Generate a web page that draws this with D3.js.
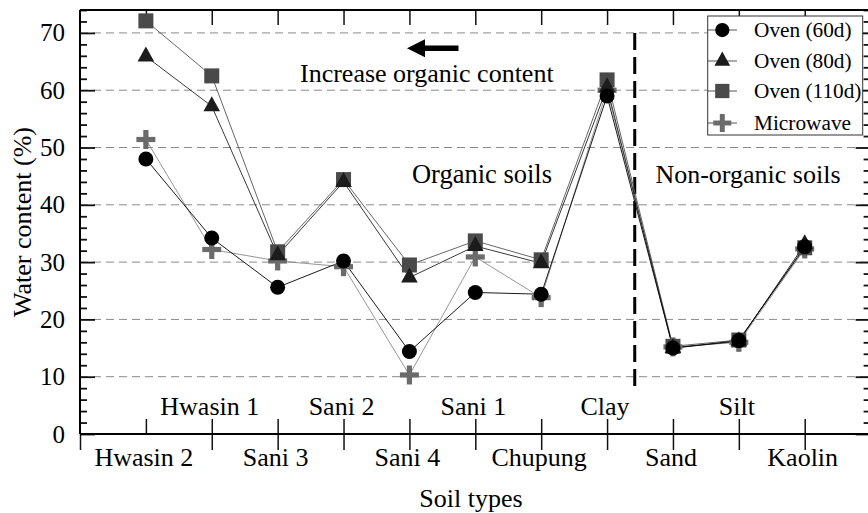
<!DOCTYPE html>
<html>
<head>
<meta charset="utf-8">
<script src="https://cdn.jsdelivr.net/npm/d3@7"></script>
<style>
  body { margin: 0; background: #fff; }
  text { font-family: "Liberation Serif", "Times New Roman", serif; fill: #000; }
</style>
</head>
<body>
<svg id="chart" width="868" height="513"></svg>
<script>
// Soil types along the x axis
const soils = ["Hwasin 2", "Hwasin 1", "Sani 3", "Sani 2", "Sani 4", "Sani 1",
               "Chupung", "Clay", "Sand", "Silt", "Kaolin"];

// Water content (%) for each drying method
const oven60    = [48.0, 34.2, 25.6, 30.2, 14.4, 24.7, 24.4, 59.0, 15.0, 16.3, 32.7];
const oven80    = [65.9, 57.2, 31.2, 44.0, 27.3, 32.8, 29.8, 60.5, 15.0, 16.2, 33.1];
const oven110   = [72.1, 62.5, 31.8, 44.4, 29.5, 33.7, 30.4, 61.8, 15.3, 16.4, 32.5];
const microwave = [51.4, 32.2, 30.2, 29.2, 10.3, 30.9, 23.8, 60.0, 15.2, 16.0, 32.3];

const seriesNames = ["Oven (60d)", "Oven (80d)", "Oven (110d)", "Microwave"];
const yTicks = [0, 10, 20, 30, 40, 50, 60, 70];
const gridTicks = [10, 20, 30, 40, 50, 60, 70];

const svg = d3.select("#chart");
const plotL = 80, plotR = 870.6, plotT = 10, plotB = 434;
const bigFont = "26px";

const x = d3.scaleLinear().domain([0, soils.length + 1]).range([plotL, plotR]);
const y = d3.scaleLinear().domain([0, 74]).range([plotB, plotT]);
const pos = i => x(i + 1);

const minorTicks = d3.range(0, 75, 2).filter(v => v % 10 !== 0);

// dashed horizontal grid
svg.append("g").selectAll("line").data(gridTicks).join("line")
  .attr("x1", plotL).attr("x2", plotR)
  .attr("y1", d => y(d)).attr("y2", d => y(d))
  .attr("stroke", "#8a8a8a").attr("stroke-width", 1)
  .attr("stroke-dasharray", "8,5");

// boundary between organic and non-organic soils
svg.append("line")
  .attr("x1", x(8.42)).attr("x2", x(8.42))
  .attr("y1", y(70)).attr("y2", y(7.9))
  .attr("stroke", "#000").attr("stroke-width", 3)
  .attr("stroke-dasharray", "17,7");

// y axes: major and minor ticks pointing inward on both sides
const leftMajor = svg.append("g").attr("transform", `translate(${plotL},0)`)
  .call(d3.axisLeft(y).tickValues(yTicks).tickSize(-15).tickPadding(15).tickFormat(d3.format("d")));
const leftMinor = svg.append("g").attr("transform", `translate(${plotL},0)`)
  .call(d3.axisLeft(y).tickValues(minorTicks).tickSize(-7).tickFormat(""));
const rightMajor = svg.append("g").attr("transform", `translate(${plotR},0)`)
  .call(d3.axisRight(y).tickValues(yTicks).tickSize(-15).tickFormat(""));
const rightMinor = svg.append("g").attr("transform", `translate(${plotR},0)`)
  .call(d3.axisRight(y).tickValues(minorTicks).tickSize(-7).tickFormat(""));

[leftMajor, leftMinor, rightMajor, rightMinor].forEach(g => {
  g.select(".domain").remove();
  g.selectAll(".tick line").attr("stroke", "#111").attr("stroke-width", 1.8);
});
leftMajor.selectAll(".tick text")
  .style("font-family", '"Liberation Serif", "Times New Roman", serif')
  .style("font-size", "25px").attr("fill", "#000");

// x axis: ticks up from the bottom axis, down from the top frame
const catIdx = d3.range(soils.length);
const bottomUp = svg.append("g").attr("transform", `translate(0,${plotB})`)
  .call(d3.axisBottom(x).tickValues(catIdx.map(i => i + 1)).tickSize(-15).tickFormat(""));
const bottomDown = svg.append("g").attr("transform", `translate(0,${plotB})`)
  .call(d3.axisBottom(x).tickValues([0].concat(catIdx.slice(1).map(i => i + 1))).tickSize(16).tickFormat(""));
const topDown = svg.append("g").attr("transform", `translate(0,${plotT})`)
  .call(d3.axisTop(x).tickValues(catIdx.map(i => i + 1)).tickSize(-15).tickFormat(""));
[bottomUp, bottomDown, topDown].forEach(g => {
  g.select(".domain").remove();
  g.selectAll(".tick line").attr("stroke", "#111").attr("stroke-width", 1.5);
});

// frame
[[plotL, plotT, plotR, plotT], [plotL, plotB, plotR, plotB],
 [plotL, plotT, plotL, plotB], [plotR, plotT, plotR, plotB]].forEach(([x1, y1, x2, y2]) => {
  svg.append("line").attr("x1", x1).attr("y1", y1).attr("x2", x2).attr("y2", y2)
    .attr("stroke", "#000").attr("stroke-width", 2);
});

// category labels alternate below and above the axis
svg.append("g").selectAll("text").data(soils).join("text")
  .attr("x", (d, i) => pos(i) - 2)
  .attr("y", (d, i) => i % 2 === 0 ? 466 : 415)
  .attr("text-anchor", "middle")
  .style("font-size", bigFont)
  .text(d => d);

// axis titles
svg.append("text").attr("x", 471).attr("y", 507).attr("text-anchor", "middle")
  .style("font-size", bigFont).text("Soil types");
svg.append("text").attr("transform", `translate(31,${(plotT + plotB) / 2}) rotate(-90)`)
  .attr("text-anchor", "middle").style("font-size", bigFont).text("Water content (%)");

// annotations
svg.append("text").attr("x", 300).attr("y", 82).style("font-size", bigFont)
  .text("Increase organic content");
svg.append("text").attr("x", 482).attr("y", 183).attr("text-anchor", "middle")
  .style("font-size", "26.5px").text("Organic soils");
svg.append("text").attr("x", 748).attr("y", 183).attr("text-anchor", "middle")
  .style("font-size", bigFont).text("Non-organic soils");
// arrow pointing left
svg.append("path")
  .attr("d", "M407,48.3 L425,39.3 L425,45.5 L458.5,45.5 L458.5,51.1 L425,51.1 L425,57.3 Z")
  .attr("fill", "#000");

// series
const seriesValues = [oven60, oven80, oven110, microwave];
const shapes = ["circle", "triangle", "square", "plus"];
const markColors = ["#000000", "#1c1c1c", "#4a4a4a", "#6b6b6b"];
const lineColors = ["#000000", "#222222", "#555555", "#8a8a8a"];

function drawSymbol(g, shape, cx, cy, color, s = 1) {
  if (shape === "circle") {
    g.append("circle").attr("cx", cx).attr("cy", cy).attr("r", 7.5 * s).attr("fill", color);
  } else if (shape === "triangle") {
    g.append("path")
      .attr("d", `M${cx},${cy - 10 * s} L${cx + 8.3 * s},${cy + 5 * s} L${cx - 8.3 * s},${cy + 5 * s} Z`)
      .attr("fill", color);
  } else if (shape === "square") {
    g.append("rect").attr("x", cx - 7.5 * s).attr("y", cy - 7.5 * s)
      .attr("width", 15 * s).attr("height", 15 * s).attr("fill", color);
  } else {
    g.append("rect").attr("x", cx - 9.5 * s).attr("y", cy - 2.6 * s)
      .attr("width", 19 * s).attr("height", 5.2 * s).attr("fill", color);
    g.append("rect").attr("x", cx - 2.6 * s).attr("y", cy - 9.5 * s)
      .attr("width", 5.2 * s).attr("height", 19 * s).attr("fill", color);
  }
}

const order = [3, 2, 1, 0];
const line = d3.line().x((d, i) => pos(i)).y(d => y(d));
const linesG = svg.append("g");
order.forEach(k => {
  linesG.append("path").datum(seriesValues[k]).attr("d", line)
    .attr("fill", "none").attr("stroke", lineColors[k]).attr("stroke-width", 0.9);
});
const marksG = svg.append("g");
order.forEach(k => {
  seriesValues[k].forEach((v, i) => drawSymbol(marksG, shapes[k], pos(i), y(v), markColors[k]));
});

// legend
const lg = svg.append("g");
lg.append("rect").attr("x", 707.7).attr("y", 16).attr("width", 155).attr("height", 119)
  .attr("fill", "#fff").attr("stroke", "#333").attr("stroke-width", 1);
const rowY = [30, 61, 91, 123];
seriesNames.forEach((name, k) => {
  lg.append("line").attr("x1", 708).attr("x2", 737).attr("y1", rowY[k]).attr("y2", rowY[k])
    .attr("stroke", "#555").attr("stroke-width", 1);
  drawSymbol(lg, shapes[k], 722.3, rowY[k], markColors[k], 0.95);
  lg.append("text").attr("x", 754).attr("y", rowY[k] + 7).style("font-size", "21.3px").text(name);
});
</script>
</body>
</html>
